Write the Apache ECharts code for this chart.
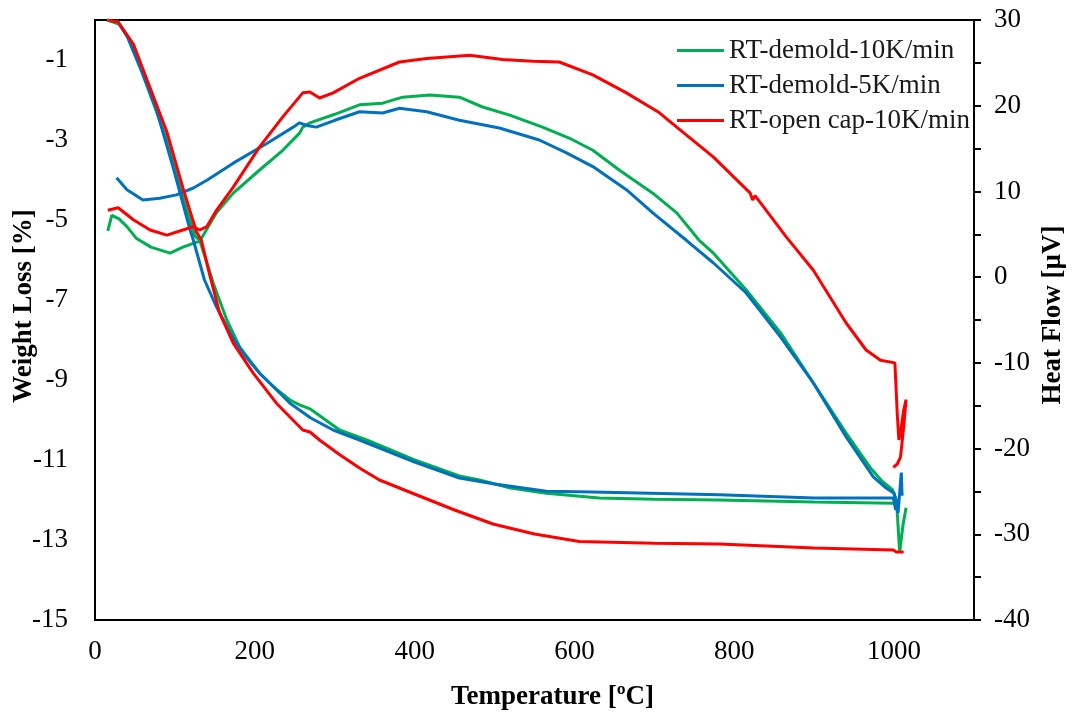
<!DOCTYPE html>
<html><head><meta charset="utf-8">
<script src="https://cdn.jsdelivr.net/npm/echarts@6/dist/echarts.min.js"></script>
<style>html,body{margin:0;padding:0;background:#fff}#c{width:1074px;height:715px}</style>
</head><body><div id="c"></div>
<script>
// Legend / series names
const seriesNames = ['RT-demold-10K/min', 'RT-demold-5K/min', 'RT-open cap-10K/min'];
const seriesColors = ['#00B050', '#0070C0', '#FF0000'];

// Axis titles
const xTitle = 'Temperature [ºC]';
const yLeftTitle = 'Weight Loss [%]';
const yRightTitle = 'Heat Flow [µV]';

// Weight loss (TG) curves: [temperature °C, weight loss %]
const greenTG = [[15,0],[30,-0.1],[48,-0.65],[68,-1.8],[88,-2.9],[108,-4.3],[125,-5.4],[131,-5.5],[148,-6.58],[165,-7.5],[181,-8.17],[206,-8.83],[225,-9.2],[244,-9.5],[256,-9.62],[269,-9.72],[306,-10.25],[340,-10.5],[400,-11.0],[456,-11.4],[481,-11.5],[520,-11.7],[565,-11.83],[631,-11.95],[700,-11.98],[781,-12.0],[900,-12.05],[999,-12.08],[1003,-12.1]];
const blueTG = [[27,0],[40,-0.4],[56,-1.17],[77,-2.25],[98,-3.7],[119,-5.25],[123,-5.5],[137,-6.5],[152,-7.17],[172,-7.93],[188,-8.4],[206,-8.83],[225,-9.2],[244,-9.58],[270,-9.95],[298,-10.25],[331,-10.5],[400,-11.05],[456,-11.45],[500,-11.6],[565,-11.78],[623,-11.8],[781,-11.87],[900,-11.95],[999,-11.95],[1002,-12.25],[1004,-12.0]];
const redTG = [[16,0],[29,-0.05],[48,-0.6],[69,-1.7],[90,-2.8],[110,-4.2],[127,-5.3],[133,-5.5],[143,-6.33],[156,-7.33],[173,-8.08],[198,-8.83],[227,-9.58],[260,-10.25],[269,-10.3],[281,-10.5],[305,-10.85],[331,-11.2],[356,-11.5],[406,-11.9],[450,-12.25],[498,-12.6],[550,-12.85],[606,-13.04],[700,-13.08],[781,-13.1],[900,-13.2],[999,-13.25],[1003,-13.3],[1012,-13.3]];

// Heat flow (DSC) curves: [temperature °C, heat flow µV]
const greenDSC = [[16,5.4],[21,7.2],[30,6.8],[40,5.9],[52,4.5],[70,3.5],[94,2.8],[110,3.5],[131,4.2],[152,7.5],[173,9.8],[206,12.5],[235,14.8],[256,16.8],[260,17.5],[269,18],[300,19],[331,20.1],[360,20.3],[385,21],[419,21.25],[456,21],[485,19.85],[519,18.9],[560,17.5],[594,16.2],[623,14.8],[656,12.5],[698,9.8],[728,7.5],[756,4.3],[774,2.8],[815,-1.5],[858,-6.5],[899,-12.35],[940,-18.2],[970,-22.2],[985,-23.8],[998,-24.8],[1003,-26],[1007,-32.1],[1011,-29],[1015,-26.9]];
const blueDSC = [[27,11.6],[40,10.2],[60,9.0],[81,9.2],[102,9.6],[123,10.4],[140,11.3],[173,13.3],[215,15.6],[248,17.5],[256,18],[265,17.7],[277,17.5],[300,18.3],[331,19.3],[360,19.15],[381,19.7],[415,19.3],[456,18.3],[506,17.4],[556,16],[590,14.5],[623,12.9],[665,10.2],[698,7.5],[740,4.3],[774,1.65],[815,-1.85],[858,-7],[899,-12.35],[940,-18.65],[974,-23.3],[990,-24.6],[1000,-25.2],[1005,-27.5],[1009,-22.8],[1010,-25.5]];
const redDSC = [[16,7.8],[29,8.1],[48,6.7],[69,5.5],[90,4.9],[110,5.5],[123,5.9],[131,5.5],[140,5.9],[152,7.8],[173,10.5],[206,15.2],[235,18.7],[260,21.5],[269,21.6],[281,20.9],[298,21.5],[331,23.2],[381,25.1],[415,25.5],[469,25.9],[510,25.4],[548,25.2],[581,25.1],[623,23.6],[665,21.5],[706,19.2],[728,17.5],[774,14],[820,9.8],[823,9.0],[826,9.5],[865,4.7],[899,0.8],[940,-5.35],[965,-8.5],[983,-9.7],[1001,-10],[1004,-16],[1006,-19],[1008,-18.2],[1012,-15.5],[1015,-14.3],[1012,-17.5],[1008,-21],[1004,-21.8],[999,-22.2]];

const tgSets = [greenTG, blueTG, redTG];
const dscSets = [greenDSC, blueDSC, redDSC];

const FONT = 'Liberation Serif, Times New Roman, serif';
const axisLineStyle = {color: '#000', width: 2};

const series = [];
for (let i = 0; i < 3; i++) {
  series.push({name: seriesNames[i], type: 'line', xAxisIndex: 0, yAxisIndex: 0, data: tgSets[i],
    showSymbol: false, symbol: 'none', lineStyle: {width: 3, color: seriesColors[i]}, itemStyle: {color: seriesColors[i]}, z: 2 + i});
  series.push({name: seriesNames[i], type: 'line', xAxisIndex: 0, yAxisIndex: 1, data: dscSets[i],
    showSymbol: false, symbol: 'none', lineStyle: {width: 3, color: seriesColors[i]}, itemStyle: {color: seriesColors[i]}, z: 2 + i});
}

const chart = echarts.init(document.getElementById('c'), null, {renderer: 'canvas'});
chart.setOption({
  animation: false,
  backgroundColor: '#fff',
  textStyle: {fontFamily: FONT},
  grid: {left: 95, right: 100, top: 20, bottom: 95, show: true, borderColor: '#000', borderWidth: 2,
    containLabel: false, outerBoundsMode: 'none'},
  legend: {
    data: seriesNames, orient: 'vertical', left: 677, top: 37, padding: 0,
    itemWidth: 47, itemHeight: 3, itemGap: 8, icon: 'rect',
    textStyle: {fontFamily: FONT, fontSize: 27, color: '#1a1a1a', lineHeight: 27}
  },
  xAxis: {
    type: 'value', min: 0, max: 1100, interval: 200,
    name: xTitle, nameLocation: 'middle', nameGap: 64, nameMoveOverlap: false,
    nameTextStyle: {fontFamily: FONT, fontSize: 27, fontWeight: 'bold', color: '#000', padding: [0, 0, 0, 36]},
    axisLine: {show: true, lineStyle: axisLineStyle},
    axisTick: {show: false}, splitLine: {show: false},
    axisLabel: {fontFamily: FONT, fontSize: 27, color: '#000', margin: 18, showMaxLabel: false,
      formatter: v => String(Math.round(v))}
  },
  yAxis: [{
    type: 'value', min: -15, max: 0, interval: 1, position: 'left',
    name: yLeftTitle, nameLocation: 'middle', nameGap: 57, nameRotate: 90, nameMoveOverlap: false,
    nameTextStyle: {fontFamily: FONT, fontSize: 27, fontWeight: 'bold', color: '#000', padding: [0, 0, 0, 28]},
    axisLine: {show: true, lineStyle: axisLineStyle},
    axisTick: {show: false}, splitLine: {show: false},
    axisLabel: {fontFamily: FONT, fontSize: 27, color: '#000', margin: 27,
      formatter: v => (Math.round(v) % 2 !== 0) ? String(Math.round(v)) : ''}
  }, {
    type: 'value', min: -40, max: 30, interval: 5, position: 'right',
    name: yRightTitle, nameLocation: 'middle', nameGap: 66, nameRotate: 90, nameMoveOverlap: false,
    nameTextStyle: {fontFamily: FONT, fontSize: 27, fontWeight: 'bold', color: '#000', padding: [0, 0, 0, 10]},
    axisLine: {show: true, lineStyle: axisLineStyle},
    axisTick: {show: true, inside: false, length: 7, lineStyle: axisLineStyle},
    splitLine: {show: false},
    axisLabel: {fontFamily: FONT, fontSize: 27, color: '#000', margin: 20,
      formatter: v => (Math.round(v) % 10 === 0) ? String(Math.round(v)) : ''}
  }],
  series: series
});
</script>
</body></html>
